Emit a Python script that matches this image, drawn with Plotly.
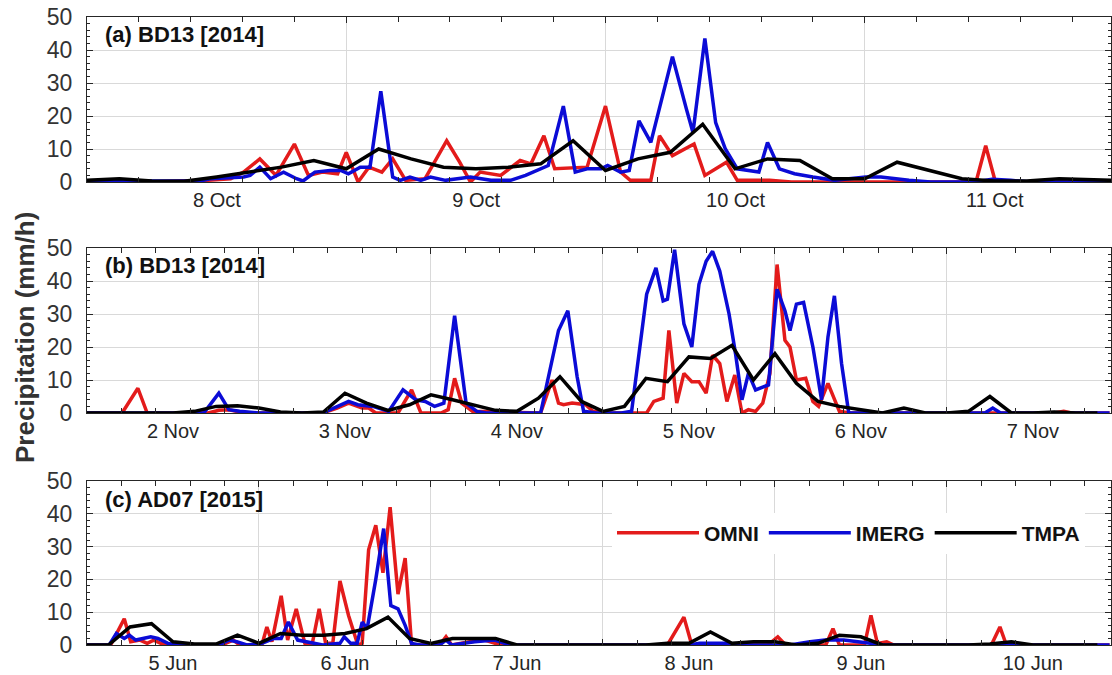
import plotly.graph_objects as go

# ---------------- data (hours since 00:00 of first day of each panel) ----------------
# Panel (a) 8-11 Oct 2014
a_days = ["8 Oct", "9 Oct", "10 Oct", "11 Oct"]
a_omni_t = [0, 5.8, 11.1, 13.3, 14.5, 16.0, 17.5, 19.2, 20.5, 21.8, 23.2, 24.0, 25.1, 26.1, 27.3, 28.3, 29.5,
            31.3, 33.3, 34.5, 35.5, 36.4, 38.3, 40.1, 41.1, 42.3, 43.3, 46.3, 48.0, 49.4, 50.3, 52.2, 53.0,
            54.2, 56.2, 57.2, 59.2, 60.2, 63.2, 65.2, 82.3, 83.2, 84.1, 94.8]
a_omni_v = [0, 0, 0.5, 1, 3, 7, 2, 11.5, 2, 3, 2.5, 9, 0, 4.5, 3, 7, 0.5,
            1, 12.5, 6, 0, 3, 2, 6.5, 5.5, 14, 4, 4.5, 23, 3, 0.5, 0.5, 14,
            8, 11.5, 2, 6, 0.5, 0.5, 0, 0, 11, 0, 0]
a_imerg_t = [0, 10.5, 11.4, 14.5, 15.1, 16.0, 17.0, 18.2, 19.4, 20.0, 21.1, 22.5, 23.5, 24.2, 25.3, 26.2,
             27.2, 28.3, 29.0, 29.9, 30.9, 31.8, 33.2, 35.5, 37.4, 39.2, 40.6, 42.0, 42.7, 44.1, 45.2,
             46.3, 47.6, 48.2, 49.4, 50.2, 51.1, 52.2, 54.2, 55.5, 56.1, 57.2, 58.2, 59.1, 60.2, 62.2,
             63.0, 64.1, 65.5, 67.2, 69.2, 72.1, 73.5, 76.1, 78.1, 82.1, 83.8, 85.5, 87.4, 94.8]
a_imerg_v = [0.3, 0.3, 1, 1.5, 2, 4.5, 1, 3, 1, 0.3, 3, 3.5, 3.5, 2.5, 4.5, 4.5,
             27.5, 1.5, 0.5, 1.5, 0.5, 1.5, 0.5, 1.5, 0.5, 0.5, 2, 4, 5, 23, 3,
             4, 4, 5, 3, 3.5, 18.5, 12, 38, 22, 15, 43.5, 18, 10, 4, 3,
             12, 4, 2.5, 1.5, 0.5, 1.5, 1.5, 0.5, 0, 0, 0.8, 0.5, 0, 0]
a_tmpa_t = [0, 3, 6, 9, 12, 15, 18, 21, 24, 27, 30, 33, 36, 39, 42, 45,
            48, 51, 54, 57, 60, 63, 66, 69, 72, 75, 78, 81, 84, 87, 90, 93, 94.8]
a_tmpa_v = [0.5, 1, 0.3, 0.2, 1.5, 3, 4.5, 6.5, 4, 10, 7, 4.5, 4, 4.5, 5.5, 12.5,
            3.5, 7, 9, 17.5, 4, 7, 6.5, 1, 1, 6, 3.5, 1, 0.3, 0.3, 1, 0.8, 0.5]

# Panel (b) 2-7 Nov 2014
b_days = ["2 Nov", "3 Nov", "4 Nov", "5 Nov", "6 Nov", "7 Nov"]
b_omni_t = [0, 4.9, 7.1, 8.4, 16.9, 18.4, 19.8, 21.3, 22.9, 32.9, 34.9, 36.5, 38.4, 39.3, 40.3, 43.4,
            45.3, 46.6, 49.4, 50.4, 51.3, 52.3, 53.8, 60.4, 63.3, 64.9, 65.8, 66.5, 67.7, 69.6, 70.6,
            72.3, 78.1, 79.1, 80.4, 81.2, 82.3, 83.3, 84.4, 85.4, 86.4, 87.3, 88.3, 89.3, 90.4, 91.4,
            92.3, 93.3, 94.3, 95.3, 96.3, 97.4, 98.1, 99.0, 100.3, 101.3, 102.1, 103.4, 105.0, 106.4,
            135.0, 136.3, 137.4, 142.7]
b_omni_v = [0, 0, 7.5, 0, 0, 0.8, 1, 0.3, 0, 0, 1.5, 3, 1.5, 1.5, 0, 0,
            7, 0, 0, 1, 10.5, 3, 0.5, 0, 0, 10, 3, 2.5, 3, 2.5, 0.5,
            0, 0, 3.5, 4.5, 25, 3, 12, 9.5, 9.5, 6, 17.5, 15, 3.5, 11.5, 0,
            1, 0.5, 3, 12, 45, 22, 20, 10, 10.5, 3.5, 2, 9, 0.5, 0,
            0, 0.5, 0, 0]
b_imerg_t = [0, 16.3, 18.4, 19.8, 21.3, 23.9, 32.9, 36.5, 37.8, 39.9, 42.1, 44.1, 45.9, 47.2, 48.5,
             49.8, 51.3, 52.9, 54.4, 55.7, 63.3, 65.8, 67.1, 68.4, 69.3, 71.1, 74.6, 76.0, 78.1, 79.4,
             80.4, 81.0, 82.0, 83.3, 84.4, 85.4, 86.4, 87.3, 88.3, 89.6, 90.5, 91.4, 92.3, 93.3, 95.1,
             96.3, 97.4, 98.1, 99.0, 100.0, 101.3, 102.5, 103.4, 104.3, 105.3, 106.3, 125.3, 126.4,
             127.5, 142.7]
b_imerg_v = [0, 0, 6, 1, 0.5, 0, 0, 3.5, 2.5, 2, 0.5, 7, 4, 3.5, 2,
             3, 29.5, 3, 0.5, 0, 0, 25, 31, 11, 0.5, 0, 0, 0.5, 36, 44,
             34, 34.5, 49.5, 27, 20, 39, 46, 49, 43, 30, 18, 4, 12, 7, 8.5,
             37.5, 31, 25, 33, 33.5, 20, 4, 23, 35.5, 15, 0, 0, 1.5,
             0, 0]
b_tmpa_t = [0, 3, 6, 9, 12, 15, 18, 21, 24, 27, 30, 33, 36, 39, 42, 45, 48, 51, 54, 57, 60, 63, 66, 69,
            72, 75, 78, 81, 84, 87, 90, 93, 96, 99, 102, 105, 108, 111, 114, 117, 120, 123, 126, 129,
            132, 135, 138, 141]
b_tmpa_v = [0, 0, 0, 0, 0, 0.5, 2, 2.2, 1.5, 0.3, 0, 0.3, 6, 3, 0.8, 2.5, 5.5, 4, 2.5, 0.8, 0.5, 4.5, 11, 3.5,
            0.5, 2, 10.5, 9.5, 17, 16.5, 20.5, 10, 18, 9, 3.5, 2, 1, 0, 1.5, 0, 0, 0.5, 5, 0,
            0, 0.3, 0, 0]

# Panel (c) 5-10 Jun 2015
c_days = ["5 Jun", "6 Jun", "7 Jun", "8 Jun", "9 Jun", "10 Jun"]
c_omni_t = [0, 3.3, 5.2, 6.1, 7.4, 8.4, 9.3, 10.3, 11.3, 18.8, 20.4, 21.3, 24.4, 25.1, 25.8, 27.1,
            28.0, 29.2, 30.4, 31.4, 32.4, 33.3, 34.3, 35.3, 36.5, 37.8, 38.4, 39.3, 40.3, 41.3, 42.3,
            43.4, 44.4, 45.3, 49.2, 50.1, 50.9, 53.4, 55.5, 57.7, 81.0, 83.3, 84.4, 95.0, 96.4, 97.5,
            103.1, 104.1, 105.0, 108.5, 109.4, 110.3, 111.6, 112.6, 126.2, 127.4, 128.3, 142.7]
c_omni_v = [0, 0, 8, 1, 1.5, 0.5, 1.5, 0.5, 0, 0, 1.5, 0, 0, 5.5, 1, 15,
            1.5, 11, 0.5, 0, 11, 0.5, 0.5, 19.5, 9, 0, 0.5, 29, 36.5, 22, 42,
            15.5, 26.5, 0, 0, 2.5, 0, 1, 1.5, 0, 0, 8.5, 0, 0, 2.5, 0,
            0, 5, 0, 0, 9, 0.5, 1, 0, 0, 5.5, 0, 0]
c_imerg_t = [0, 3.1, 4.1, 5.2, 5.9, 6.8, 8.9, 9.9, 11.3, 13.0, 18.4, 19.8, 20.9, 22.3, 24.4, 26.1,
             27.1, 28.1, 29.4, 30.8, 32.9, 35.3, 35.9, 36.8, 37.7, 38.4, 39.1, 40.3, 41.4, 42.4, 43.4,
             44.4, 45.3, 46.5, 49.2, 50.1, 50.9, 54.1, 56.9, 59.0, 84.1, 85.5, 89.0, 90.4, 98.1, 100.9,
             103.0, 105.6, 107.8, 111.3, 127.4, 128.6, 130.2, 142.7]
c_imerg_v = [0, 0, 3.5, 2, 3, 1.5, 2.5, 2, 0.5, 0, 0, 1.5, 1, 0, 0.5, 2,
             2, 7, 1.5, 1, 0, 0.5, 2.5, 0.5, 0.5, 7, 5, 20, 35.5, 12, 11,
             6, 0.5, 0, 0, 1.5, 0, 1, 1.5, 0, 0, 0.5, 0.5, 0, 0, 1,
             1.5, 1.5, 1, 0, 0, 0.5, 0, 0]
c_tmpa_t = b_tmpa_t
c_tmpa_v = [0, 0, 5.5, 6.5, 1, 0.3, 0.3, 3, 0.5, 3.5, 3, 3, 3.5, 5, 8.5, 2, 0.5, 2, 2, 2, 0, 0, 0, 0,
            0, 0, 0, 0.5, 0.5, 4, 0.5, 1, 1, 0, 0.5, 3, 2.5, 0, 0, 0, 0, 0, 0.3, 1,
            0, 0, 0, 0]

series_names = ["OMNI", "IMERG", "TMPA"]
series_colors = ["#e31b1b", "#0b0bd6", "#000000"]
panel_titles = ["(a) BD13 [2014]", "(b) BD13 [2014]", "(c) AD07 [2015]"]

panels = [
    dict(days=a_days, span=94.8,
         data=[(a_omni_t, a_omni_v), (a_imerg_t, a_imerg_v), (a_tmpa_t, a_tmpa_v)]),
    dict(days=b_days, span=142.9,
         data=[(b_omni_t, b_omni_v), (b_imerg_t, b_imerg_v), (b_tmpa_t, b_tmpa_v)]),
    dict(days=c_days, span=142.9,
         data=[(c_omni_t, c_omni_v), (c_imerg_t, c_imerg_v), (c_tmpa_t, c_tmpa_v)]),
]

# ---------------- layout geometry (pixels) ----------------
W, H = 1112, 675
x_left, x_right = 87, 1111
y_boxes = [(17, 182), (248, 413), (481, 645)]

FONT = "Liberation Sans, Arial, sans-serif"
AX = "#262626"
GRID = "#d9d9d9"

fig = go.Figure()
layout = dict(width=W, height=H, margin=dict(l=0, r=0, t=0, b=0),
              paper_bgcolor="white", plot_bgcolor="white",
              font=dict(family=FONT, color=AX), annotations=[])

xdom = [x_left / W, x_right / W]
for i, p in enumerate(panels):
    sfx = "" if i == 0 else str(i + 1)
    xa, ya = "x" + sfx, "y" + sfx
    for j, (t, v) in enumerate(p["data"]):
        fig.add_trace(go.Scatter(
            x=t, y=v, mode="lines", name=series_names[j],
            line=dict(color=series_colors[j], width=3.5),
            xaxis=xa, yaxis=ya, showlegend=(i == 2), legendgroup=series_names[j],
        ))
    top, bot = y_boxes[i]
    day_px = (x_right - x_left) / p["span"] * 24
    ndays = len(p["days"])
    layout["xaxis" + sfx] = dict(
        domain=xdom, anchor=ya, range=[0, p["span"]],
        tickmode="array", tickvals=[24 * k for k in range(ndays)], ticktext=p["days"],
        ticklabelshift=int(round(day_px / 2)), ticklabelstandoff=0,
        ticks="inside", ticklen=6, tickcolor=AX, tickwidth=1,
        showline=True, linecolor=AX, linewidth=1, mirror="allticks",
        showgrid=True, gridcolor=GRID, gridwidth=1, zeroline=False,
        tickfont=dict(size=20, color=AX, family=FONT),
        minor=dict(ticks="inside", ticklen=5, dtick=4.8, tick0=0, tickcolor=AX, showgrid=False),
        automargin=False, fixedrange=True,
    )
    layout["yaxis" + sfx] = dict(
        domain=[1 - bot / H, 1 - top / H], anchor=xa, range=[0, 50],
        tickmode="linear", tick0=0, dtick=10,
        ticks="inside", ticklen=6, tickcolor=AX, tickwidth=1,
        showline=True, linecolor=AX, linewidth=1, mirror="allticks",
        showgrid=True, gridcolor=GRID, gridwidth=1, zeroline=False,
        tickfont=dict(size=23, color="#333333", family=FONT), ticklabelstandoff=9,
        minor=dict(ticks="inside", ticklen=3, dtick=2, tick0=0, tickcolor=AX, showgrid=False),
        automargin=False, fixedrange=True,
    )
    layout["annotations"].append(dict(
        text="<b>%s</b>" % panel_titles[i], xref="paper", yref="paper",
        x=103 / W, y=1 - (top + 18) / H, xanchor="left", yanchor="middle",
        showarrow=False, font=dict(size=22, color="#111111", family=FONT),
    ))

layout["annotations"].append(dict(
    text="<b>Precipitation (mm/h)</b>", xref="paper", yref="paper",
    x=25 / W, y=1 - 338 / H, xanchor="center", yanchor="middle", textangle=-90,
    showarrow=False, font=dict(size=26, color="#333333", family=FONT),
))

layout["legend"] = dict(
    orientation="h", x=612 / W, y=1 - 533 / H, xanchor="left", yanchor="middle",
    bgcolor="white", borderwidth=0, itemwidth=82, traceorder="normal",
    font=dict(size=21, color="#111111", family=FONT, weight="bold"),
)

fig.update_layout(**layout)
fig.write_html("out.html")
